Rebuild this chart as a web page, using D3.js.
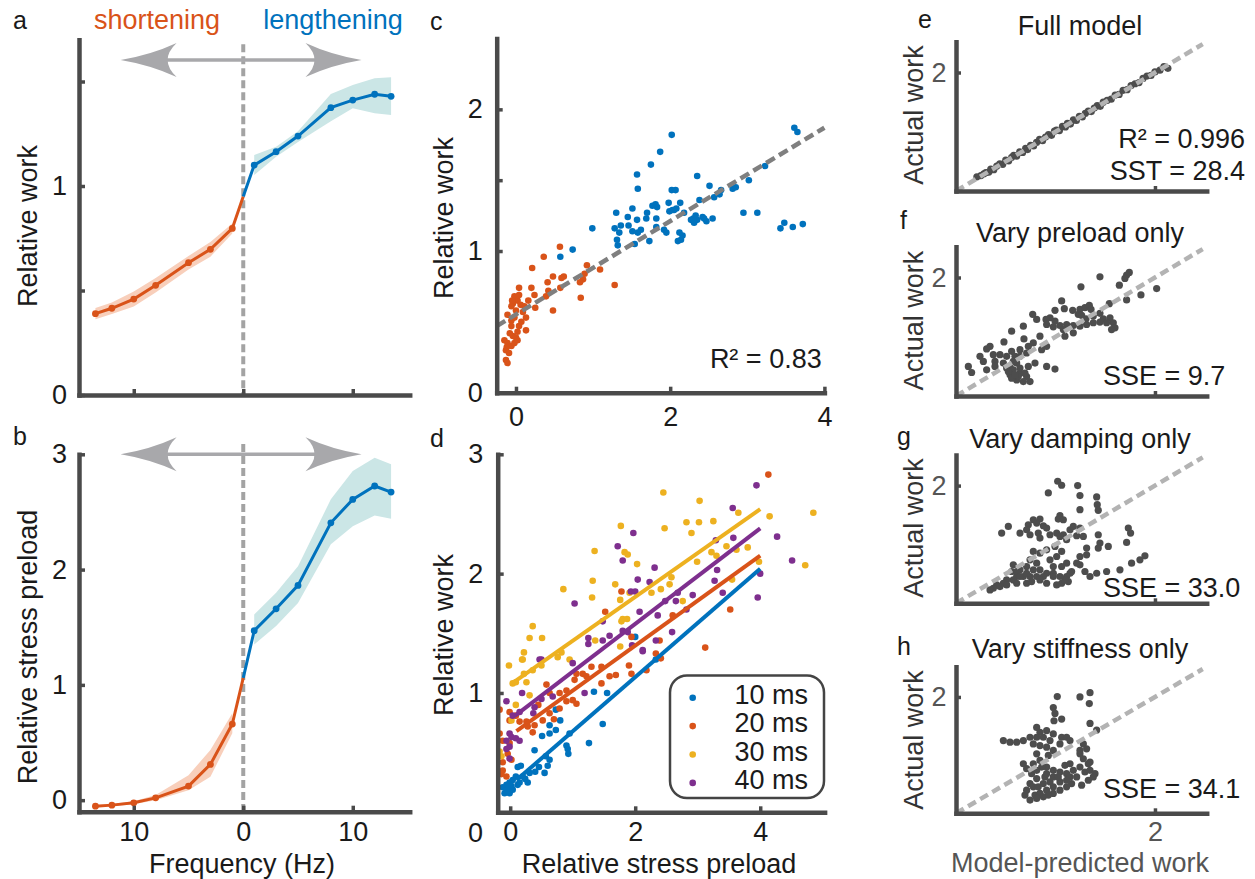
<!DOCTYPE html>
<html><head><meta charset="utf-8">
<script src="https://cdn.jsdelivr.net/npm/d3@7"></script>
<style>body{margin:0;background:#fff}</style>
</head><body><svg id="fig" width="1255" height="879"></svg>
<script>
// ---------------- DATA ----------------
// Panels a & b (frequency in Hz; shortening plotted to the left)
const freqShort = [-13.5, -12, -10, -8, -5, -3, -1];
const freqLong  = [1, 3, 5, 8, 10, 12, 13.5];
const workShort   = [0.389, 0.415, 0.459, 0.525, 0.633, 0.697, 0.797];
const workShortLo = [0.362, 0.388, 0.423, 0.490, 0.601, 0.662, 0.773];
const workShortHi = [0.416, 0.442, 0.495, 0.560, 0.665, 0.732, 0.821];
const workLong    = [1.100, 1.164, 1.239, 1.375, 1.411, 1.439, 1.429];
const workLongLo  = [1.053, 1.140, 1.210, 1.310, 1.372, 1.348, 1.340];
const workLongHi  = [1.148, 1.188, 1.262, 1.440, 1.483, 1.515, 1.520];
const workZero = 0.95;
const stressShort   = [-0.052, -0.043, -0.023, 0.020, 0.122, 0.310, 0.660];
const stressShortLo = [-0.062, -0.053, -0.035, 0.000, 0.087, 0.203, 0.580];
const stressShortHi = [-0.042, -0.033, -0.010, 0.045, 0.217, 0.435, 0.755];
const stressLong    = [1.470, 1.660, 1.863, 2.406, 2.609, 2.725, 2.672];
const stressLongLo  = [1.350, 1.510, 1.710, 2.220, 2.377, 2.470, 2.440];
const stressLongHi  = [1.610, 1.800, 2.030, 2.610, 2.855, 2.970, 2.913];
const stressZero = 1.06;
const freqTicks = [-10, 0, 10];

// Panel c: [relative stress preload, relative work]
const cLengthening = [[3.61,1.87],[3.65,1.84],[2.02,1.82],[1.87,1.70],[1.75,1.61],[1.57,1.54],[2.35,1.53],[3.23,1.60],[3.02,1.50],[1.58,1.44],[2.02,1.43],[2.07,1.43],[2.51,1.46],[2.66,1.43],[2.64,1.40],[2.81,1.44],[2.85,1.45],[2.57,1.38],[2.38,1.36],[1.98,1.34],[2.13,1.34],[1.77,1.32],[1.83,1.31],[1.81,1.33],[1.99,1.28],[2.03,1.29],[2.05,1.29],[1.30,1.27],[1.45,1.24],[1.51,1.30],[1.57,1.22],[1.69,1.23],[1.82,1.23],[2.18,1.27],[2.30,1.23],[2.35,1.22],[2.42,1.24],[2.47,1.21],[2.55,1.23],[2.95,1.27],[3.13,1.27],[3.43,1.16],[3.48,1.20],[3.59,1.17],[3.72,1.19],[0.99,1.16],[1.28,1.16],[1.36,1.18],[1.46,1.18],[1.34,1.13],[1.31,1.08],[1.32,1.04],[1.51,1.14],[1.58,1.13],[1.62,1.15],[1.54,1.05],[1.73,1.07],[1.82,1.17],[1.92,1.15],[1.95,1.13],[2.10,1.07],[2.14,1.08],[2.16,1.11],[2.12,1.13],[2.27,1.22],[2.31,1.20],[2.33,1.25],[2.44,1.23],[0.575,0.96],[0.735,1.01],[2.08,1.30],[1.70,1.27]];
const cShortening = [[0.57,1.03],[0.36,0.96],[0.21,0.88],[0.92,0.90],[1.09,0.87],[1.28,0.76],[0.48,0.82],[0.62,0.82],[0.59,0.81],[0.41,0.78],[0.87,0.80],[0.83,0.78],[0.89,0.84],[0.04,0.74],[0.20,0.74],[0.42,0.72],[0.575,0.74],[0.84,0.67],[0.39,0.68],[0.24,0.69],[0.16,0.65],[0.25,0.60],[0.48,0.58],[-0.02,0.68],[0.02,0.65],[-0.04,0.63],[0.04,0.69],[-0.05,0.65],[-0.06,0.61],[0.06,0.62],[0.00,0.58],[0.09,0.57],[0.13,0.53],[0.11,0.61],[-0.11,0.55],[-0.06,0.51],[-0.02,0.53],[0.04,0.47],[0.02,0.43],[0.13,0.44],[-0.06,0.47],[-0.15,0.37],[-0.11,0.35],[-0.06,0.33],[-0.13,0.30],[-0.09,0.28],[-0.02,0.35],[0.02,0.37],[-0.04,0.40],[-0.13,0.23],[-0.11,0.21],[-0.08,0.42],[0.07,0.50],[-0.12,0.32],[0.00,0.39]];
const cFit = [[-0.25, 0.47], [4, 1.87]];
const cR2 = "R\u00B2 = 0.83";

// Panel d: [relative stress preload, relative work] per delay
const d10 = [[2.00,1.47],[2.33,1.28],[1.34,1.01],[1.55,1.00],[1.48,0.74],[1.26,0.58],[0.90,0.56],[0.92,0.53],[0.93,0.49],[0.95,0.66],[0.80,0.77],[0.73,0.69],[0.63,0.66],[0.51,0.64],[0.73,0.86],[0.63,0.73],[0.39,0.52],[0.57,0.47],[0.63,0.44],[0.60,0.39],[0.46,0.38],[0.40,0.34],[0.55,0.33],[0.31,0.33],[0.24,0.28],[0.28,0.25],[0.12,0.38],[0.17,0.39],[0.09,0.30],[0.04,0.27],[-0.01,0.25],[-0.06,0.23],[-0.12,0.21],[-0.04,0.19],[-0.09,0.16],[-0.01,0.16],[0.04,0.19],[0.12,0.23],[0.15,0.25],[0.20,0.30],[0.02,0.22],[-0.06,0.18]];
const d20 = [[4.13,2.83],[1.78,1.85],[1.52,1.68],[3.52,1.70],[3.12,1.38],[2.60,1.65],[1.94,1.47],[2.39,1.44],[2.33,1.33],[2.41,1.29],[-0.17,0.86],[-0.01,0.84],[0.09,0.81],[-0.01,0.77],[0.15,0.76],[0.26,0.76],[0.28,0.72],[0.39,0.73],[0.36,0.67],[0.52,0.77],[0.63,0.83],[0.79,0.87],[0.90,0.93],[1.06,0.91],[1.00,0.94],[0.58,1.07],[0.63,1.00],[0.79,1.00],[0.90,1.02],[1.03,1.11],[1.06,1.16],[1.16,1.16],[1.22,1.14],[1.30,1.22],[1.46,1.22],[1.46,1.08],[1.59,1.14],[1.69,1.15],[1.90,1.23],[1.94,1.16],[2.18,1.19],[-0.17,0.66],[-0.12,0.60],[-0.01,0.58],[-0.04,0.49],[0.02,0.44],[-0.12,0.42],[-0.12,0.35],[-0.14,0.32],[-0.06,0.30],[0.45,0.90],[0.70,0.78]];
const d30 = [[2.45,2.68],[3.03,2.61],[4.85,2.51],[4.15,2.48],[3.65,2.51],[1.77,2.40],[2.47,2.38],[2.82,2.43],[2.90,2.34],[3.02,2.43],[3.25,2.44],[3.22,2.18],[3.30,2.15],[3.46,2.23],[3.62,2.20],[3.80,2.22],[3.98,2.10],[4.72,2.07],[2.99,2.10],[1.35,2.19],[1.83,2.18],[1.88,2.16],[2.03,2.08],[1.32,1.94],[1.68,1.91],[2.58,1.97],[2.55,1.91],[2.41,1.87],[2.26,1.84],[3.55,1.95],[0.85,1.87],[1.31,1.80],[1.76,1.78],[1.91,1.84],[2.76,1.77],[1.80,1.62],[1.87,1.62],[1.78,1.60],[0.36,1.56],[0.31,1.46],[0.51,1.46],[1.36,1.44],[1.76,1.39],[0.22,1.34],[0.19,1.28],[0.82,1.34],[0.95,1.28],[-0.02,1.23],[0.20,1.28],[0.22,1.16],[0.36,1.19],[0.04,1.08],[0.09,1.09],[0.26,1.09],[0.50,1.23],[0.76,1.30],[0.09,0.90],[0.02,0.77],[-0.17,0.51],[-0.14,0.47],[0.31,0.98]];
const d40 = [[3.94,2.74],[3.56,2.55],[4.27,2.31],[3.57,2.30],[3.29,2.28],[1.97,2.34],[1.72,2.23],[1.80,2.11],[4.51,2.11],[2.31,2.05],[2.23,1.93],[3.31,2.03],[3.27,1.94],[3.40,1.84],[4.00,2.00],[3.96,1.80],[2.04,1.95],[1.93,1.85],[2.00,1.85],[1.03,1.75],[2.92,1.82],[2.68,1.84],[2.82,1.70],[2.65,1.77],[2.48,1.77],[2.36,1.65],[2.07,1.68],[2.59,1.51],[1.48,1.60],[1.59,1.48],[1.80,1.52],[1.88,1.51],[1.25,1.46],[1.25,1.41],[1.48,1.44],[1.95,1.40],[2.12,1.36],[2.33,1.44],[0.47,1.28],[-0.06,0.93],[0.04,0.81],[0.15,0.84],[-0.01,0.66],[-0.06,0.60],[-0.01,0.55],[0.02,0.63],[0.09,0.62],[0.15,0.60],[-0.06,0.53],[-0.01,0.45],[0.19,1.00],[0.39,0.88],[0.37,0.83],[0.50,0.95],[0.68,0.97],[1.00,1.25],[1.19,1.00],[0.50,1.28],[2.12,1.35]];
const dFit10 = [[0.10, 0.27], [4.0, 2.04]];
const dFit20 = [[0.10, 0.68], [4.0, 2.15]];
const dFit30 = [[0.03, 1.08], [4.0, 2.54]];
const dFit40 = [[0.08, 0.81], [4.0, 2.38]];
const legendLabels = ["10 ms", "20 ms", "30 ms", "40 ms"];

// Panels e-h: [model-predicted work, actual work]
const eFull = [[0.21,0.24],[0.25,0.26],[0.28,0.29],[0.30,0.31],[0.33,0.32],[0.35,0.37],[0.38,0.36],[0.41,0.42],[0.44,0.46],[0.47,0.45],[0.50,0.52],[0.53,0.51],[0.56,0.57],[0.58,0.60],[0.61,0.59],[0.64,0.66],[0.67,0.65],[0.70,0.72],[0.72,0.70],[0.75,0.77],[0.78,0.76],[0.81,0.82],[0.84,0.87],[0.87,0.85],[0.90,0.91],[0.93,0.95],[0.96,0.94],[0.99,1.01],[1.01,1.03],[1.04,1.02],[1.07,1.09],[1.10,1.08],[1.12,1.14],[1.15,1.13],[1.18,1.20],[1.21,1.19],[1.24,1.26],[1.27,1.25],[1.30,1.31],[1.33,1.35],[1.36,1.34],[1.39,1.40],[1.42,1.44],[1.45,1.43],[1.48,1.50],[1.52,1.53],[1.56,1.55],[1.60,1.62],[1.64,1.63],[1.68,1.70],[1.72,1.71],[1.76,1.78],[1.80,1.81],[1.84,1.83],[1.88,1.90],[1.92,1.94],[1.96,1.95],[2.00,2.01],[2.05,2.04],[2.09,2.10],[2.13,2.07]];
const fPreload = [[1.742,2.086],[1.715,2.041],[1.698,1.984],[1.642,1.871],[1.447,2.012],[1.256,1.842],[1.859,1.706],[2.017,1.814],[1.715,1.621],[1.541,1.559],[1.062,1.604],[0.995,1.446],[1.089,1.474],[1.173,1.446],[1.246,1.463],[1.296,1.491],[1.340,1.531],[1.357,1.463],[1.229,1.378],[1.263,1.361],[1.307,1.304],[1.380,1.349],[1.447,1.395],[1.481,1.304],[1.548,1.321],[1.581,1.236],[1.598,1.151],[1.564,1.122],[1.514,1.236],[1.447,1.247],[1.380,1.236],[1.313,1.207],[1.246,1.179],[1.179,1.190],[1.112,1.207],[1.045,1.190],[0.995,1.264],[0.945,1.321],[0.911,1.207],[0.978,1.168],[1.079,1.122],[1.179,1.066],[1.095,1.009],[0.905,1.293],[0.811,1.293],[0.771,1.378],[0.677,1.179],[0.559,1.094],[0.482,0.913],[0.342,0.839],[0.308,0.794],[0.241,0.669],[0.275,0.584],[0.392,0.584],[0.442,0.697],[0.559,0.754],[0.593,0.669],[0.643,0.782],[0.683,0.964],[0.727,0.839],[0.777,0.896],[0.844,1.009],[0.861,0.782],[0.911,0.839],[0.794,0.556],[0.911,0.499],[0.995,0.454],[0.610,0.556],[0.543,0.499],[0.509,0.471],[0.576,0.442],[0.543,0.357],[0.643,0.385],[0.710,0.329],[0.744,0.244],[0.677,0.244],[0.610,0.272],[0.559,0.300],[0.643,0.471],[0.727,0.499],[0.643,0.669],[0.710,0.726],[0.576,0.584],[0.476,0.556],[0.392,0.499],[0.308,0.442],[0.124,0.499],[0.157,0.397],[0.375,0.697],[0.509,0.669],[0.626,0.329],[0.693,0.385],[0.593,0.357],[0.526,0.414]];
const gDamping = [[1.022,2.074],[1.062,2.006],[1.223,2.000],[0.928,1.875],[1.246,1.830],[1.414,1.807],[1.420,1.676],[1.430,1.580],[1.246,1.591],[1.045,1.489],[1.028,1.432],[1.079,1.420],[0.844,1.432],[0.811,1.364],[0.777,1.420],[0.727,1.335],[0.878,1.318],[0.911,1.278],[0.710,1.250],[0.827,1.193],[0.844,1.108],[0.744,1.165],[0.643,1.193],[0.526,1.307],[0.459,1.193],[0.945,1.165],[1.012,1.193],[1.079,1.165],[1.146,1.250],[1.179,1.307],[1.246,1.278],[1.213,1.148],[1.112,1.080],[1.045,1.136],[1.280,1.136],[1.430,1.165],[1.732,1.278],[1.755,1.193],[1.715,1.034],[1.447,1.023],[1.430,0.938],[1.531,0.966],[1.313,0.938],[1.246,0.795],[1.313,0.824],[1.246,0.653],[1.296,0.540],[1.414,0.511],[1.514,0.540],[1.648,0.568],[1.765,0.682],[1.849,0.739],[1.899,0.807],[1.347,0.455],[1.146,0.511],[1.112,0.455],[1.129,0.369],[1.062,0.341],[1.012,0.313],[1.095,0.398],[0.978,0.511],[0.978,0.625],[0.945,0.739],[1.012,0.795],[1.062,0.881],[0.995,0.966],[0.911,0.909],[0.844,0.852],[0.777,0.881],[0.744,0.739],[0.811,0.682],[0.710,0.625],[0.643,0.568],[0.576,0.653],[0.559,0.540],[0.777,0.568],[0.844,0.568],[0.911,0.511],[0.878,0.455],[0.811,0.455],[0.744,0.455],[0.677,0.455],[0.610,0.455],[0.576,0.398],[0.509,0.398],[0.476,0.341],[0.409,0.313],[0.375,0.256],[0.342,0.227],[0.442,0.284],[0.509,0.313],[0.610,0.341],[0.710,0.341],[0.760,0.369],[0.844,0.398],[0.911,0.341],[0.978,0.455],[1.045,0.455],[1.062,0.625],[1.112,0.682],[1.162,0.540],[1.213,0.682],[0.610,0.540],[0.643,0.455],[0.710,0.511]];
const hStiffness = [[1.018,2.006],[1.246,2.000],[1.347,2.074],[1.340,1.886],[0.978,1.818],[0.995,1.716],[1.062,1.619],[0.985,1.591],[1.347,1.545],[1.414,1.432],[0.811,1.477],[0.844,1.392],[0.911,1.420],[0.978,1.364],[1.062,1.307],[1.112,1.307],[1.146,1.250],[1.045,1.193],[0.945,1.250],[0.878,1.307],[0.811,1.307],[0.744,1.307],[0.677,1.250],[0.610,1.222],[0.543,1.222],[0.476,1.250],[0.777,1.193],[0.844,1.165],[0.911,1.136],[0.978,1.080],[0.928,0.994],[0.844,0.909],[0.777,0.852],[0.677,0.852],[0.710,0.767],[0.760,0.682],[0.811,0.597],[0.744,0.511],[0.710,0.398],[0.693,0.313],[0.744,0.227],[0.794,0.313],[0.844,0.341],[0.911,0.398],[0.978,0.455],[1.045,0.540],[0.945,0.540],[0.894,0.625],[0.911,0.795],[0.978,0.739],[1.045,0.710],[1.112,0.682],[1.095,0.824],[1.146,0.852],[1.246,0.795],[1.296,0.710],[1.347,0.739],[1.397,0.682],[1.380,0.625],[1.330,0.568],[1.263,0.483],[1.162,0.511],[1.112,0.455],[1.045,0.398],[0.978,0.341],[0.928,0.313],[0.878,0.284],[0.811,0.256],[1.280,1.193],[1.313,1.108],[1.246,1.023],[1.280,0.938],[1.347,0.881],[1.330,0.852],[1.213,0.625],[1.146,0.625],[0.811,1.023],[0.861,0.795],[0.911,0.682],[0.811,0.739],[0.777,0.455],[0.827,0.455],[0.878,0.511],[0.978,0.625],[1.028,0.625],[1.112,0.568],[1.179,0.739],[1.246,1.080]];
const identityLine = [[0, 0], [2.48, 2.48]];
const modelTitles = ["Full model", "Vary preload only", "Vary damping only", "Vary stiffness only"];

// ---------------- STYLE ----------------
const FONT = '"Liberation Sans", Arial, Helvetica, sans-serif';
const FS = 27;
const AX = "#4a4a4a";
const C = {blue: "#0072BD", orange: "#D95319", yellow: "#EDB120", purple: "#7E2F8E"};
const BAND_O = "#f8cfbb", BAND_B = "#cbe6e6";
const GRAYARROW = "#a8a8ab";
const svg = d3.select("#fig");

function txt(x, y, s, o = {}) {
  const t = svg.append("text").attr("x", x).attr("y", y).text(s)
    .attr("font-family", FONT).attr("font-size", o.fs || FS)
    .attr("fill", o.fill || "#1a1a1a").attr("text-anchor", o.anchor || "start");
  if (o.rot) t.attr("transform", `rotate(-90,${x},${y})`);
  return t;
}
function axis(orient, scale, pos, vals, fmt, o = {}) {
  const a = (orient === "left" ? d3.axisLeft(scale) : d3.axisBottom(scale))
    .tickValues(vals).tickFormat(fmt).tickSizeInner(-(o.tick || 6)).tickSizeOuter(0).tickPadding(o.pad || 12);
  const g = svg.append("g").attr("transform", orient === "left" ? `translate(${pos},0)` : `translate(0,${pos})`).call(a);
  g.attr("font-family", FONT).attr("font-size", o.fs || FS);
  g.select(".domain").attr("stroke", AX).attr("stroke-width", o.w || 4.5).attr("stroke-linecap", "square");
  g.selectAll(".tick line").attr("stroke", AX).attr("stroke-width", o.tw || 3.5);
  g.selectAll(".tick text").attr("fill", o.tc || "#1a1a1a");
  return g;
}
function dots(data, x, y, r, color) {
  svg.append("g").selectAll("circle").data(data).join("circle")
    .attr("cx", d => x(d[0])).attr("cy", d => y(d[1])).attr("r", r).attr("fill", color);
}
function seg(data, x, y, color, w, dash) {
  const p = svg.append("path").datum(data).attr("d", d3.line().x(d => x(d[0])).y(d => y(d[1])))
    .attr("fill", "none").attr("stroke", color).attr("stroke-width", w);
  if (dash) p.attr("stroke-dasharray", dash);
  return p;
}
function band(xs, lo, hi, x, y, color) {
  const d = xs.map((f, i) => [f, lo[i], hi[i]]);
  svg.append("path").datum(d).attr("fill", color)
    .attr("d", d3.area().x(v => x(v[0])).y0(v => y(v[1])).y1(v => y(v[2])));
}
function doubleArrow(xl, xr, yy) {
  svg.append("line").attr("x1", xl + 40).attr("x2", xr - 40).attr("y1", yy).attr("y2", yy)
    .attr("stroke", GRAYARROW).attr("stroke-width", 3.5);
  const head = (tip, s) => `M${tip},${yy} Q${tip + s * 30},${yy - 5} ${tip + s * 56},${yy - 17} Q${tip + s * 38},${yy} ${tip + s * 56},${yy + 17} Q${tip + s * 30},${yy + 5} ${tip},${yy} Z`;
  svg.append("path").attr("d", head(xl, 1)).attr("fill", GRAYARROW);
  svg.append("path").attr("d", head(xr, -1)).attr("fill", GRAYARROW);
}

// ---------------- PANELS a & b ----------------
const xF = d3.scaleLinear().domain([-15, 15.2]).range([79, 409.7]);
const yA = d3.scaleLinear().domain([0, 1.7]).range([395, 39.7]);
const yB = d3.scaleLinear().domain([-0.1, 3]).range([811.7, 454.3]);

function freqPanel(yS, sh, shLo, shHi, lg, lgLo, lgHi, zero, dashTop, arrowY) {
  band(freqShort, shLo, shHi, xF, yS, BAND_O);
  band(freqLong, lgLo, lgHi, xF, yS, BAND_B);
  seg([[0, dashTop], [0, yS.domain()[0]]], xF, yS, "#a3a3a3", 4, "8,4");
  const lineS = freqShort.map((f, i) => [f, sh[i]]).concat([[0, zero]]);
  const lineL = [[0, zero]].concat(freqLong.map((f, i) => [f, lg[i]]));
  seg(lineS, xF, yS, C.orange, 3);
  seg(lineL, xF, yS, C.blue, 3);
  dots(freqShort.map((f, i) => [f, sh[i]]), xF, yS, 3.4, C.orange);
  dots(freqLong.map((f, i) => [f, lg[i]]), xF, yS, 3.4, C.blue);
  doubleArrow(xF(-11.2), xF(10.8), yS(arrowY));
}
freqPanel(yA, workShort, workShortLo, workShortHi, workLong, workLongLo, workLongHi, workZero, 1.678, 1.603);
freqPanel(yB, stressShort, stressShortLo, stressShortHi, stressLong, stressLongLo, stressLongHi, stressZero, 3.09, 3.0);

axis("left", yA, 79, [0, 0.5, 1, 1.5], d => (d === 0 || d === 1) ? d : "", {pad: 12});
axis("bottom", xF, 395, freqTicks, d => "", {});
axis("left", yB, 79, [0, 1, 2, 3], d => d, {pad: 12});
axis("bottom", xF, 811.7, freqTicks, d => Math.abs(d), {pad: 10});

txt(13, 29, "a", {fs: 25});
txt(13, 445, "b", {fs: 25});
txt(157, 29, "shortening", {anchor: "middle", fill: C.orange});
txt(333, 29, "lengthening", {anchor: "middle", fill: C.blue});
txt(36.5, 226, "Relative work", {anchor: "middle", rot: true});
txt(36.5, 647, "Relative stress preload", {anchor: "middle", rot: true});
txt(242, 872.5, "Frequency (Hz)", {anchor: "middle"});

// ---------------- PANEL c ----------------
const xC = d3.scaleLinear().domain([-0.25, 4]).range([496.7, 824.4]);
const yC = d3.scaleLinear().domain([0, 2.5]).range([392.7, 38.5]);
dots(cLengthening, xC, yC, 3.3, C.blue);
dots(cShortening, xC, yC, 3.3, C.orange);
seg(cFit, xC, yC, "#7f7f7f", 4.5, "10,5");
axis("left", yC, 496.7, [0, 1, 1.5, 2], d => d === 1.5 ? "" : d, {pad: 14});
axis("bottom", xC, 392.7, [0, 2, 4], d => d, {pad: 14});
txt(430, 30, "c", {fs: 25});
txt(453, 218, "Relative work", {anchor: "middle", rot: true});
txt(821.7, 368.3, cR2, {anchor: "end"});

// ---------------- PANEL d ----------------
const xD = d3.scaleLinear().domain([-0.2, 5.03]).range([497.7, 824.6]);
const yD = d3.scaleLinear().domain([0, 3]).range([812.3, 454.3]);
const dSeries = [d10, d20, d30, d40];
const dFits = [dFit10, dFit20, dFit30, dFit40];
const dColors = [C.blue, C.orange, C.yellow, C.purple];
dSeries.forEach((s, i) => dots(s, xD, yD, 3.3, dColors[i]));
dFits.forEach((f, i) => seg(f, xD, yD, dColors[i], 4));
axis("left", yD, 497.7, [1, 2, 3], d => d, {pad: 14.5});
axis("bottom", xD, 812.3, [0, 2, 4], d => d, {pad: 10});
txt(483, 841.5, "0", {anchor: "end"});
txt(430, 446.5, "d", {fs: 25});
txt(453, 635, "Relative work", {anchor: "middle", rot: true});
txt(659, 872.5, "Relative stress preload", {anchor: "middle"});
// legend
svg.append("rect").attr("x", 670).attr("y", 675.5).attr("width", 154).attr("height", 122.5)
  .attr("rx", 17).attr("fill", "#fff").attr("stroke", "#444").attr("stroke-width", 2.5);
legendLabels.forEach((lab, i) => {
  const by = 704 + i * 28.4;
  svg.append("circle").attr("cx", 692.7).attr("cy", by - 6.3).attr("r", 3.3).attr("fill", dColors[i]);
  txt(808, by, lab, {anchor: "end"});
});

// ---------------- PANELS e-h ----------------
const xE = d3.scaleLinear().domain([0, 2.52]).range([956, 1206.7]);
const modelPanels = [
  {data: eFull, bot: 191, top: 41.7, title: 35, letter: "e", lx: 918, ly: 28, yl: 115},
  {data: fPreload, bot: 396, top: 246.7, title: 241.7, letter: "f", lx: 900, ly: 229, yl: 320.6},
  {data: gDamping, bot: 603.3, top: 455, title: 448.3, letter: "g", lx: 897, ly: 445, yl: 528},
  {data: hStiffness, bot: 813.3, top: 666.7, title: 658.3, letter: "h", lx: 897, ly: 655, yl: 740}
];
const sseLabels = [null, "SSE = 9.7", "SSE = 33.0", "SSE = 34.1"];
const sseBase = [null, 385, 596.7, 798.3];
modelPanels.forEach((p, i) => {
  const yS = d3.scaleLinear().domain([0, 2.52]).range([p.bot, p.top]);
  dots(p.data, xE, yS, 3.6, "#4d4d4d");
  seg(identityLine, xE, yS, "#b3b3b3", 4.5, "9,5");
  axis("left", yS, 956, [2], d => d, {pad: 9.5, tick: 5, tc: "#555"});
  axis("bottom", xE, p.bot, [2], d => i === 3 ? d : "", {pad: 9, tick: 5, tc: "#555"});
  txt(1080, p.title, modelTitles[i], {anchor: "middle"});
  txt(p.lx, p.ly, p.letter, {fs: 25});
  txt(923, p.yl, "Actual work", {anchor: "middle", rot: true, fill: "#333"});
  if (sseLabels[i]) txt(1103, sseBase[i], sseLabels[i]);
});
txt(1245, 148.3, "R\u00B2 = 0.996", {anchor: "end"});
txt(1245, 180, "SST = 28.4", {anchor: "end"});
txt(1080, 872, "Model-predicted work", {anchor: "middle", fill: "#555"});
</script></body></html>
